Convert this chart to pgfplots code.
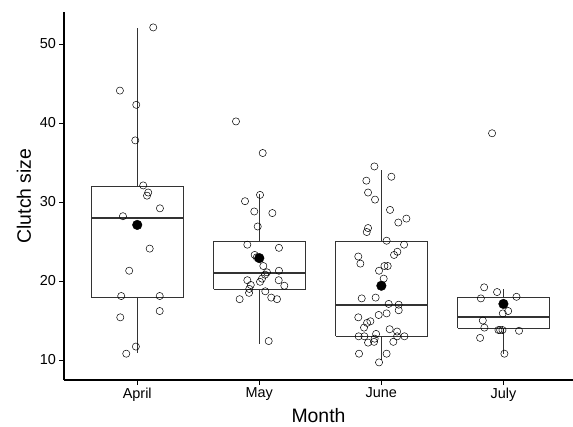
\documentclass[border=0pt]{standalone}
\usepackage{pgfplots}
\pgfplotsset{compat=1.18}
\usepackage{pgfplotstable}
\usepackage{fontspec}
\setmainfont{Liberation Sans}
\definecolor{grey20}{HTML}{333333}

\pgfplotstableread{
x y
1.131 52.1
0.858 44.1
0.992 42.3
0.984 37.8
1.049 32.1
1.090 31.2
1.080 30.8
1.186 29.2
0.883 28.2
1.102 24.1
0.934 21.3
0.869 18.1
1.184 18.1
1.184 16.2
0.861 15.4
0.989 11.7
0.910 10.8
}\april
\pgfplotstableread{
x y
1.809 40.2
2.028 36.2
2.006 30.9
1.883 30.1
1.959 28.8
2.107 28.6
1.987 26.9
1.902 24.6
2.161 24.2
1.962 23.3
1.979 23.0
2.033 21.9
2.063 21.1
2.161 21.3
2.047 20.8
2.022 20.3
2.006 19.9
1.902 20.1
2.159 20.1
2.205 19.4
1.930 19.5
1.918 19.0
1.916 18.5
2.049 18.7
2.098 17.9
2.145 17.7
1.839 17.7
2.077 12.4
}\may
\pgfplotstableread{
x y
2.943 34.5
3.082 33.2
2.877 32.7
2.891 31.2
2.948 30.3
3.071 29.0
3.205 27.9
3.139 27.4
2.891 26.7
2.880 26.2
3.043 25.1
3.186 24.6
3.131 23.7
3.104 23.3
2.811 23.1
2.828 22.2
3.052 21.9
3.025 21.9
2.981 21.3
3.019 20.3
2.839 17.8
2.953 17.9
3.060 17.1
3.142 17.0
3.142 16.3
3.043 15.9
2.978 15.7
2.811 15.4
2.910 14.9
2.883 14.7
2.858 14.1
3.068 13.9
3.129 13.6
2.814 13.0
2.861 13.0
2.957 13.3
2.945 12.7
3.129 13.0
3.189 13.0
2.891 12.2
2.940 12.3
3.098 12.3
2.817 10.8
3.043 10.8
2.981 9.7
}\june
\pgfplotstableread{
x y
3.842 19.2
3.948 18.6
3.815 17.8
4.107 18.0
4.039 16.2
3.995 15.9
3.831 15.0
3.844 14.1
3.959 13.8
3.973 13.8
3.992 13.8
4.128 13.7
3.809 12.8
4.008 10.8
3.907 38.7
}\july

\begin{document}
\begin{tikzpicture}
\path[use as bounding box] (-64bp,-47bp) rectangle (509bp,380bp);
\begin{axis}[
  at={(0,0)}, anchor=south west,
  scale only axis, width=509bp, height=368bp,
  xmin=0.4, xmax=4.57, ymin=7.47, ymax=54.05,
  axis x line=bottom, axis y line=left,
  axis line style={-, line width=1.3pt, black},
  xtick={1,2,3,4}, xticklabels={April,May,June,July},
  ytick={10,20,30,40,50},
  tick align=outside, major tick length=4.5bp,
  tick style={black, line width=0.8pt},
  tick label style={font=\fontsize{14.5}{16}\selectfont, black},
  /pgf/number format/assume math mode=true,
  xlabel={Month}, ylabel={Clutch size},
  label style={font=\fontsize{19.5}{22}\selectfont},
  xlabel style={at={(axis description cs:0.5,0)}, anchor=base, yshift=-42.5bp},
  ylabel style={at={(axis description cs:0,0.5)}, anchor=base, yshift=33bp},
]
% boxes
\addplot[draw=grey20, fill=white, line width=0.6pt] coordinates {(0.625,18) (1.375,18) (1.375,32) (0.625,32) (0.625,18)};
\addplot[draw=grey20, fill=white, line width=0.6pt] coordinates {(1.625,19) (2.375,19) (2.375,25) (1.625,25) (1.625,19)};
\addplot[draw=grey20, fill=white, line width=0.6pt] coordinates {(2.625,13) (3.375,13) (3.375,25) (2.625,25) (2.625,13)};
\addplot[draw=grey20, fill=white, line width=0.6pt] coordinates {(3.625,14) (4.375,14) (4.375,18) (3.625,18) (3.625,14)};
% whiskers
\addplot[grey20, line width=0.6pt] coordinates {(1,32) (1,52)};
\addplot[grey20, line width=0.6pt] coordinates {(1,18) (1,10.9)};
\addplot[grey20, line width=0.6pt] coordinates {(2,25) (2,31)};
\addplot[grey20, line width=0.6pt] coordinates {(2,19) (2,12)};
\addplot[grey20, line width=0.6pt] coordinates {(3,25) (3,34)};
\addplot[grey20, line width=0.6pt] coordinates {(3,13) (3,10)};
\addplot[grey20, line width=0.6pt] coordinates {(4,18) (4,19)};
\addplot[grey20, line width=0.6pt] coordinates {(4,14) (4,10.7)};
% medians
\addplot[grey20, line width=1.9pt] coordinates {(0.625,28) (1.375,28)};
\addplot[grey20, line width=1.9pt] coordinates {(1.625,21) (2.375,21)};
\addplot[grey20, line width=1.9pt] coordinates {(2.625,17) (3.375,17)};
\addplot[grey20, line width=1.9pt] coordinates {(3.625,15.5) (4.375,15.5)};
% jittered points
\addplot[only marks, mark=o, mark size=3.6bp, mark options={black, line width=0.5pt}] table[x=x,y=y] {\april};
\addplot[only marks, mark=o, mark size=3.6bp, mark options={black, line width=0.5pt}] table[x=x,y=y] {\may};
\addplot[only marks, mark=o, mark size=3.6bp, mark options={black, line width=0.5pt}] table[x=x,y=y] {\june};
\addplot[only marks, mark=o, mark size=3.6bp, mark options={black, line width=0.5pt}] table[x=x,y=y] {\july};
% means
\addplot[only marks, mark=*, mark size=4.8bp, black] coordinates {(1,27.1) (2,22.9) (3,19.4) (4,17.1)};
\end{axis}
\end{tikzpicture}
\end{document}
